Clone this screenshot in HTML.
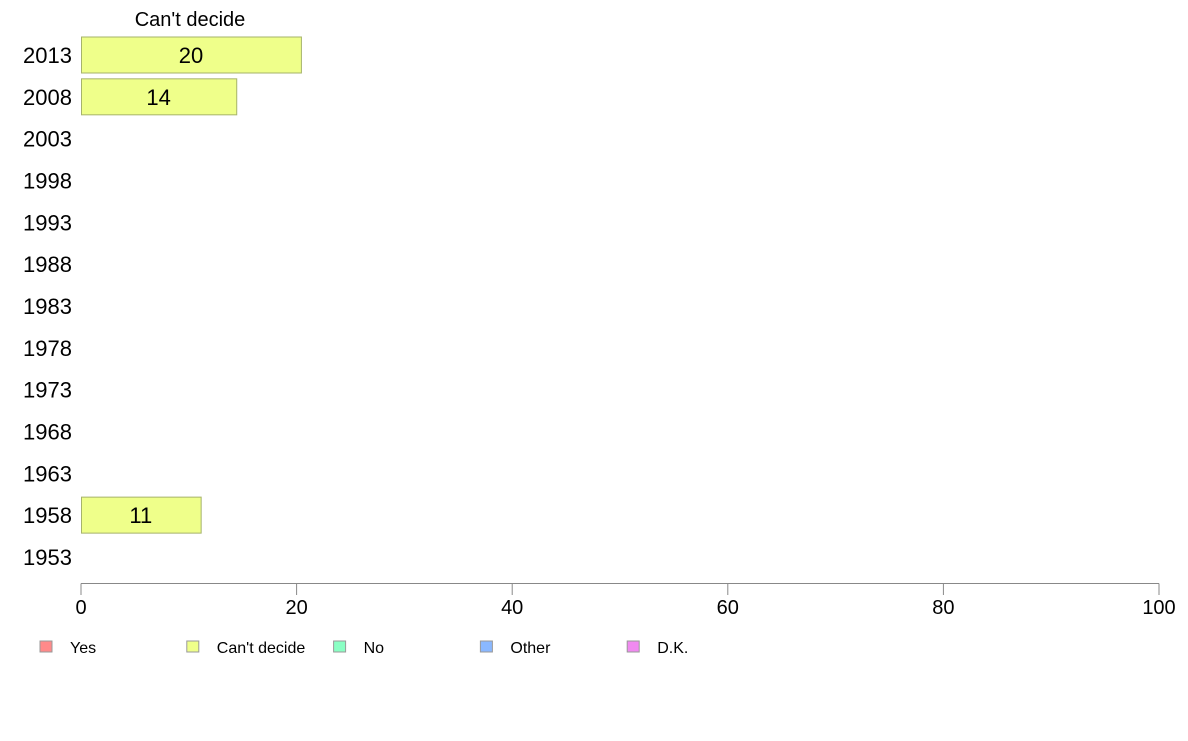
<!DOCTYPE html>
<html><head><meta charset="utf-8"><style>
body{margin:0;background:#fff;font-family:"Liberation Sans",sans-serif}
</style></head><body>
<svg id="chart" width="1188" height="736" xmlns="http://www.w3.org/2000/svg" font-family="Liberation Sans, sans-serif"></svg>
<script>
const years=["2013","2008","2003","1998","1993","1988","1983","1978","1973","1968","1963","1958","1953"];
const values=[20.4,14.4,null,null,null,null,null,null,null,null,null,11.1,null];
const labels=["20","14","","","","","","","","","","11",""];
const ticks=[0,20,40,60,80,100];
const legendNames=["Yes","Can't decide","No","Other","D.K."];
const legendColors=["#ff8a8a","#efff8a","#8affc4","#8ab8ff","#f08af0"];
const svg=document.getElementById('chart');
const NS="http://www.w3.org/2000/svg";
const x=v=>81+v*10.78;
const yc=i=>55+i*41.83;
function mk(t,a,txt){const e=document.createElementNS(NS,t);for(const k in a)e.setAttribute(k,a[k]);if(txt!==undefined)e.textContent=txt;svg.appendChild(e);return e;}
let e=mk('text',{x:190,y:26,'font-size':20,'text-anchor':'middle'},"Can't decide");


years.forEach((yr,i)=>{
  let t=mk('text',{x:72,y:yc(i)+8,'font-size':22,'text-anchor':'end'},yr);
  
  
  if(values[i]!=null){
    let r=mk('rect',{x:x(0)+0.5,y:yc(i)-18,width:x(values[i])-x(0),height:36,fill:'#efff8a',stroke:'#a6b36a','stroke-width':1});
    
    
    let l=mk('text',{x:(x(0)+x(values[i]))/2,y:yc(i)+8,'font-size':22,'text-anchor':'middle'},labels[i]);
    
    
  }
});
let ax=mk('line',{x1:x(0),x2:x(100),y1:583.5,y2:583.5,stroke:'#888','stroke-width':1});


ticks.forEach(v=>{
  let tl=mk('line',{x1:x(v),x2:x(v),y1:583.5,y2:595,stroke:'#888','stroke-width':1});
  
  
  let tt=mk('text',{x:x(v),y:614,'font-size':20,'text-anchor':'middle'},String(v));
  
  
});
legendNames.forEach((n,i)=>{
  const lx=40+i*146.8;
  let s=mk('rect',{x:lx,y:641,width:12,height:11,fill:legendColors[i],stroke:'#999','stroke-width':1});
  
  
  let t=mk('text',{x:lx+30,y:653,'font-size':16},n);
  
  
});
</script>
</body></html>
